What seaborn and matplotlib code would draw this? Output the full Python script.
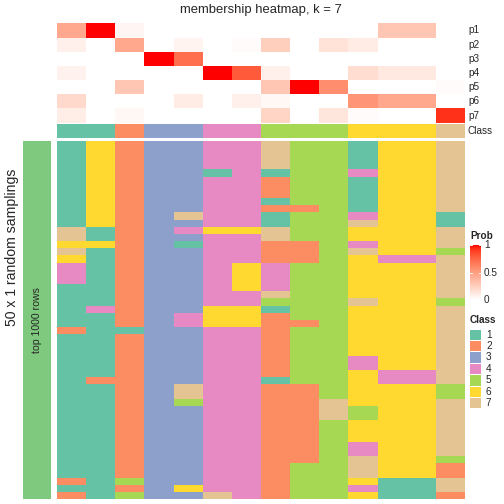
import numpy as np
import matplotlib
matplotlib.use("Agg")
import matplotlib.pyplot as plt
from matplotlib.colors import ListedColormap, LinearSegmentedColormap
from matplotlib.patches import Rectangle
import seaborn as sns

sns.set_theme(style="white")
plt.rcParams["font.family"] = ["Liberation Sans", "DejaVu Sans"]

# membership probabilities for the 14 consensus columns
prob_rows = ["p1", "p2", "p3", "p4", "p5", "p6", "p7"]
p1 = [0.45, 1.0, 0.05, 0, 0, 0, 0, 0, 0, 0, 0, 0.3, 0.3, 0]
p2 = [0.08, 0, 0.45, 0, 0.06, 0, 0.02, 0.25, 0, 0.15, 0.1, 0, 0, 0]
p3 = [0, 0, 0, 1.0, 0.72, 0, 0, 0, 0, 0, 0, 0, 0, 0]
p4 = [0.07, 0, 0, 0, 0, 1.0, 0.8, 0.08, 0, 0, 0.18, 0.12, 0.12, 0]
p5 = [0, 0, 0.3, 0, 0, 0, 0, 0.3, 1.0, 0.58, 0, 0, 0, 0.02]
p6 = [0.2, 0, 0, 0, 0.1, 0, 0.08, 0.04, 0, 0, 0.55, 0.45, 0.45, 0]
p7 = [0.09, 0, 0.04, 0, 0, 0, 0, 0.22, 0, 0.13, 0.02, 0, 0, 0.93]

col_class = [1, 1, 2, 3, 3, 4, 4, 5, 5, 5, 6, 6, 6, 7]

# class per sampling (50 rows), run-length encoded as (class, count), one list per column
c01 = [(1, 12), (7, 2), (6, 1), (7, 1), (6, 1), (4, 3), (1, 6), (2, 1), (1, 20), (2, 1), (1, 1), (2, 1)]
c02 = [(6, 12), (1, 2), (6, 1), (1, 8), (4, 1), (1, 9), (2, 1), (1, 16)]
c03 = [(2, 26), (1, 1), (2, 20), (5, 1), (2, 1), (5, 1)]
c04 = [(3, 50)]
c05 = [(3, 10), (7, 1), (3, 1), (4, 1), (3, 1), (1, 1), (3, 9), (4, 2), (3, 8), (7, 2), (5, 1), (3, 11), (6, 1), (3, 1)]
c06 = [(4, 4), (1, 1), (4, 7), (6, 1), (4, 10), (6, 3), (4, 23), (7, 1)]
c07 = [(4, 12), (6, 1), (4, 4), (6, 4), (4, 2), (6, 3), (4, 24)]
c08 = [(7, 4), (1, 1), (2, 3), (1, 1), (2, 1), (1, 2), (7, 2), (2, 3), (4, 4), (7, 1), (5, 1), (1, 1), (2, 9), (1, 1), (2, 16)]
c09 = [(5, 9), (2, 1), (5, 4), (2, 3), (5, 8), (2, 1), (5, 8), (2, 11), (5, 5)]
c10 = [(5, 36), (7, 3), (5, 11)]
c11 = [(1, 4), (4, 1), (1, 5), (4, 1), (7, 1), (6, 2), (4, 1), (7, 1), (6, 6), (7, 1), (6, 7), (4, 2), (6, 5), (5, 2), (6, 3), (4, 2), (7, 3), (6, 1), (4, 1), (6, 1)]
c12 = [(6, 16), (4, 1), (6, 15), (4, 2), (6, 13), (1, 3)]
c13 = [(6, 16), (4, 1), (6, 15), (4, 2), (6, 13), (1, 3)]
c14 = [(7, 10), (1, 2), (7, 3), (5, 1), (7, 6), (5, 1), (7, 11), (5, 2), (7, 8), (5, 1), (2, 2), (7, 2), (2, 1)]

class_labels = ["1", "2", "3", "4", "5", "6", "7"]
class_colors = ["#66C2A5", "#FC8D62", "#8DA0CB", "#E78AC3", "#A6D854", "#FFD92F", "#E5C494"]


def expand(runs):
    return np.concatenate([np.repeat(k, n) for k, n in runs])


cols = [c01, c02, c03, c04, c05, c06, c07, c08, c09, c10, c11, c12, c13, c14]
member = np.column_stack([expand(c) for c in cols])
prob = np.array([p1, p2, p3, p4, p5, p6, p7])


def lab_ramp(c0, c1, n=256):
    # white -> red interpolated in CIE LAB, like colorRamp2
    t = np.linspace(0, 1, n)[:, None]
    lab = np.array(c0) * (1 - t) + np.array(c1) * t
    L, a, b = lab[:, 0], lab[:, 1], lab[:, 2]
    fy = (L + 16) / 116
    fx = fy + a / 500
    fz = fy - b / 200

    def finv(f):
        return np.where(f > 6 / 29, f ** 3, 3 * (6 / 29) ** 2 * (f - 4 / 29))

    xyz = np.stack([0.95047 * finv(fx), finv(fy), 1.08883 * finv(fz)], axis=1)
    m = np.array([[3.2406, -1.5372, -0.4986], [-0.9689, 1.8758, 0.0415], [0.0557, -0.2040, 1.0570]])
    rgb = xyz @ m.T
    rgb = np.clip(rgb, 0, 1)
    rgb = np.where(rgb <= 0.0031308, 12.92 * rgb, 1.055 * rgb ** (1 / 2.4) - 0.055)
    return LinearSegmentedColormap.from_list("wr", np.clip(rgb, 0, 1))


prob_cmap = lab_ramp([100, 0, 0], [53.24, 80.09, 67.20])
class_cmap = ListedColormap(class_colors)

W = H = 504
fig = plt.figure(figsize=(7, 7), dpi=72)


def box(x0, y0, x1, y1):
    return fig.add_axes([x0 / W, 1 - y1 / H, (x1 - x0) / W, (y1 - y0) / H])


hx0, hx1 = 57, 465

ax_p = box(hx0, 23.3, hx1, 122.7)
sns.heatmap(prob, ax=ax_p, cmap=prob_cmap, vmin=0, vmax=1, cbar=False,
            xticklabels=False, yticklabels=False)

ax_c = box(hx0, 124, hx1, 138.3)
sns.heatmap(np.array([col_class]), ax=ax_c, cmap=class_cmap, vmin=0.5, vmax=7.5,
            cbar=False, xticklabels=False, yticklabels=False)

ax_m = box(hx0, 140.8, hx1, 499)
sns.heatmap(member, ax=ax_m, cmap=class_cmap, vmin=0.5, vmax=7.5, cbar=False,
            xticklabels=False, yticklabels=False)

for i, name in enumerate(prob_rows):
    fig.text(468 / W, 1 - (23.3 + 14.2 * (i + 0.5)) / H, name, fontsize=10, va="center", ha="left")
fig.text(468 / W, 1 - 131.2 / H, "Class", fontsize=10, va="center", ha="left")

fig.text((hx0 + hx1) / 2 / W, 1 - 10.5 / H, "membership heatmap, k = 7", fontsize=13,
         ha="center", va="center")

# row slice bar
ax_s = box(23, 140.8, 51, 499)
ax_s.set_facecolor("#7FC97F")
ax_s.set_xticks([])
ax_s.set_yticks([])
for sp in ax_s.spines.values():
    sp.set_visible(False)
ax_s.text(0.5, 0.5, "top 1000 rows", rotation=90, ha="center", va="center", fontsize=10.5,
          transform=ax_s.transAxes)
fig.text(12 / W, 1 - 247 / H, "50 x 1 random samplings", rotation=90, fontsize=14,
         ha="center", va="center")

# Prob legend
fig.text(470 / W, 1 - 236 / H, "Prob", fontsize=10, fontweight="bold", ha="left", va="center")
ax_l = box(470, 245, 481, 300)
grad = np.linspace(1, 0, 100)[:, None]
ax_l.imshow(grad, aspect="auto", cmap=prob_cmap, vmin=0, vmax=1, extent=[0, 1, 0, 1])
ax_l.set_xlim(0, 1)
ax_l.set_ylim(0, 1)
for v in [1, 0.5, 0]:
    ax_l.plot([0, 0.2], [v, v], color="white", lw=1)
    ax_l.plot([0.8, 1], [v, v], color="white", lw=1)
    fig.text(484 / W, 1 - (300 - 55 * v) / H, "0.5" if v == 0.5 else str(int(v)), fontsize=10,
             ha="left", va="center")
ax_l.set_xticks([])
ax_l.set_yticks([])
for sp in ax_l.spines.values():
    sp.set_visible(False)

# Class legend
fig.text(470 / W, 1 - 320 / H, "Class", fontsize=10, fontweight="bold", ha="left", va="center")
for i, (lab, colr) in enumerate(zip(class_labels, class_colors)):
    y0 = 329.5 + 11.4 * i
    fig.patches.append(Rectangle((470 / W, 1 - (y0 + 10.5) / H), 11 / W, 10.5 / H,
                                 transform=fig.transFigure, facecolor=colr, edgecolor="none"))
    fig.text(486 / W, 1 - (y0 + 5.2) / H, lab, fontsize=10, ha="left", va="center")

fig.savefig("out.png", dpi=72)
